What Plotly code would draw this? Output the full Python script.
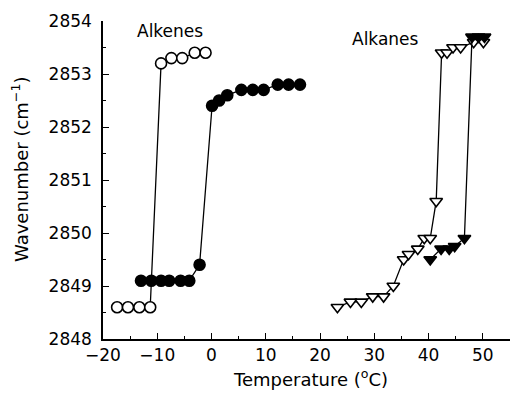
import plotly.graph_objects as go

# Alkenes
alkene_open_x = [-17.4, -15.4, -13.3, -11.3, -9.3, -7.4, -5.4, -3.1, -1.1]
alkene_open_y = [2848.6, 2848.6, 2848.6, 2848.6, 2853.2, 2853.3, 2853.3, 2853.4, 2853.4]
alkene_fill_x = [-13.0, -11.1, -9.3, -7.8, -5.7, -4.1, -2.2, 0.1, 1.4, 2.9, 5.5, 7.6, 9.6, 12.2, 14.2, 16.3]
alkene_fill_y = [2849.1, 2849.1, 2849.1, 2849.1, 2849.1, 2849.1, 2849.4, 2852.4, 2852.5, 2852.6,
                 2852.7, 2852.7, 2852.7, 2852.8, 2852.8, 2852.8]
# Alkanes
alkane_open_x = [23.2, 25.6, 27.6, 29.7, 31.7, 33.5, 35.4, 36.3, 38.0, 39.2, 40.3, 41.4,
                 42.4, 43.4, 44.5, 45.9, 48.3, 50.1]
alkane_open_y = [2848.6, 2848.7, 2848.7, 2848.8, 2848.8, 2849.0, 2849.5, 2849.6, 2849.7, 2849.9,
                 2849.9, 2850.6, 2853.4, 2853.4, 2853.5, 2853.5, 2853.6, 2853.6]
alkane_fill_x = [40.3, 42.3, 43.8, 44.8, 46.6, 48.0, 49.2, 50.3]
alkane_fill_y = [2849.5, 2849.7, 2849.7, 2849.75, 2849.9, 2853.7, 2853.7, 2853.7]

x_ticks = [-20, -10, 0, 10, 20, 30, 40, 50]
y_ticks = [2848, 2849, 2850, 2851, 2852, 2853, 2854]

FONT = "DejaVu Sans"
fig = go.Figure()

def add(x, y, symbol, fill):
    fig.add_trace(go.Scatter(
        x=x, y=y, mode="lines+markers",
        line=dict(color="black", width=1.3),
        marker=dict(symbol=symbol, size=11,
                    color="black" if fill else "white",
                    line=dict(color="black", width=1.6)),
        showlegend=False))

add(alkene_open_x, alkene_open_y, "circle", False)
add(alkene_fill_x, alkene_fill_y, "circle", True)
add(alkane_open_x, alkane_open_y, "triangle-down", False)
add(alkane_fill_x, alkane_fill_y, "triangle-down", True)

axis_common = dict(showline=True, linecolor="black", linewidth=1.5, ticks="inside",
                   ticklen=6, tickwidth=1.2, tickcolor="black", showgrid=False,
                   zeroline=False, mirror=False,
                   tickfont=dict(family=FONT, size=17, color="black"),
                   minor=dict(ticks="inside", ticklen=3, tickcolor="black", tickwidth=1))

fig.update_xaxes(range=[-20, 55], tickvals=x_ticks, minor_dtick=5, **axis_common)
fig.update_yaxes(range=[2848, 2854], tickvals=y_ticks, minor_dtick=0.5,
                 ticklabelstandoff=6, **axis_common)

L, R, T, B = 103, 510, 21, 339
def px(x, y):
    return (x - L) / (R - L), (B - y) / (B - T)

def note(text, x, y, size=17, angle=0):
    xp, yp = px(x, y)
    fig.add_annotation(text=text, xref="paper", yref="paper", x=xp, y=yp,
                       xanchor="center", yanchor="middle", showarrow=False,
                       textangle=angle, font=dict(family=FONT, size=size, color="black"))

note("Alkenes", 170, 31)
note("Alkanes", 385, 39)
note("Temperature (<sup>o</sup>C)", 310, 378, size=18)
note("Wavenumber (cm<sup>−1</sup>)", 20, 170, size=18, angle=-90)

fig.update_layout(width=510, height=401, margin=dict(l=L, r=510 - R, t=T, b=401 - B),
                  plot_bgcolor="white", paper_bgcolor="white")
fig.write_html("out.html")
